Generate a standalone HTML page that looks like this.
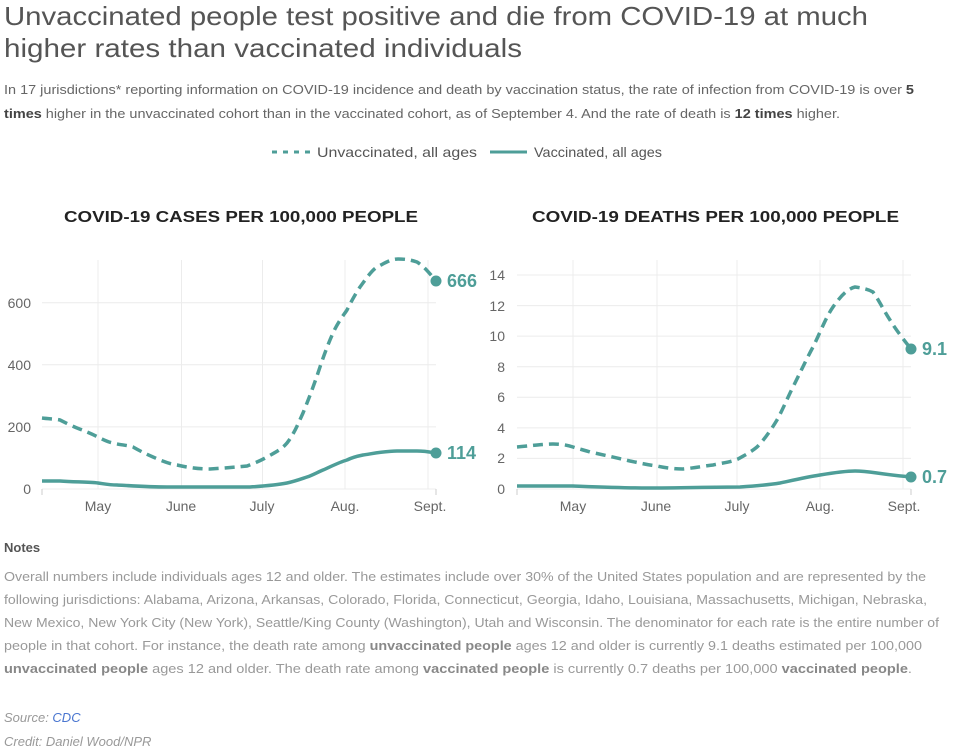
<!DOCTYPE html>
<html><head><meta charset="utf-8"><style>
html,body{margin:0;padding:0;background:#fff;}
svg{display:block;font-family:"Liberation Sans",sans-serif;}
</style></head><body>
<svg width="960" height="755" viewBox="0 0 960 755" xmlns="http://www.w3.org/2000/svg">
<g fill="#555" font-size="26">
<text x="4" y="25" textLength="864" lengthAdjust="spacingAndGlyphs">Unvaccinated people test positive and die from COVID-19 at much</text>
<text x="4" y="57" textLength="518" lengthAdjust="spacingAndGlyphs">higher rates than vaccinated individuals</text>
</g>
<g fill="#666" font-size="13">
<text x="4" y="94" textLength="910" lengthAdjust="spacingAndGlyphs">In 17 jurisdictions* reporting information on COVID-19 incidence and death by vaccination status, the rate of infection from COVID-19 is over <tspan font-weight="bold" fill="#444">5</tspan></text>
<text x="4" y="118" textLength="836" lengthAdjust="spacingAndGlyphs"><tspan font-weight="bold" fill="#444">times</tspan> higher in the unvaccinated cohort than in the vaccinated cohort, as of September 4. And the rate of death is <tspan font-weight="bold" fill="#444">12 times</tspan> higher.</text>
</g>
<line x1="272" y1="152" x2="310" y2="152" stroke="#4e9e98" stroke-width="3" stroke-dasharray="5,6"/>
<text x="317" y="157" font-size="14" fill="#555" textLength="160" lengthAdjust="spacingAndGlyphs">Unvaccinated, all ages</text>
<line x1="490" y1="152" x2="527" y2="152" stroke="#4e9e98" stroke-width="3"/>
<text x="534" y="157" font-size="14" fill="#555" textLength="128" lengthAdjust="spacingAndGlyphs">Vaccinated, all ages</text>

<g font-weight="bold" font-size="16" fill="#222">
<text x="64" y="222" textLength="354" lengthAdjust="spacingAndGlyphs">COVID-19 CASES PER 100,000 PEOPLE</text>
<text x="532" y="222" textLength="367" lengthAdjust="spacingAndGlyphs">COVID-19 DEATHS PER 100,000 PEOPLE</text>
</g>

<!-- left chart -->
<g stroke="#ececec" stroke-width="1">
<line x1="98" y1="260" x2="98" y2="489"/><line x1="181.5" y1="260" x2="181.5" y2="489"/><line x1="262.5" y1="260" x2="262.5" y2="489"/><line x1="345" y1="260" x2="345" y2="489"/><line x1="428" y1="260" x2="428" y2="489"/>
<line x1="42" y1="302.7" x2="436" y2="302.7"/><line x1="42" y1="364.8" x2="436" y2="364.8"/><line x1="42" y1="426.9" x2="436" y2="426.9"/><line x1="42" y1="489" x2="436" y2="489"/>
<line x1="42" y1="489" x2="42" y2="495" stroke="#ccc"/><line x1="436" y1="489" x2="436" y2="495" stroke="#ccc"/>
</g>
<g font-size="14" fill="#666" text-anchor="end">
<text x="31" y="308">600</text><text x="31" y="370">400</text><text x="31" y="432">200</text><text x="31" y="494">0</text>
</g>
<g font-size="14" fill="#666" text-anchor="middle">
<text x="98" y="511">May</text><text x="181" y="511">June</text><text x="262" y="511">July</text><text x="345" y="511">Aug.</text><text x="430" y="511">Sept.</text>
</g>
<path d="M42,418 C50,419 55,419 60,420 C66,423 72,426 77,428 C85,431 92,434 98,437 C104,440 108,442 113,443 C120,445 127,445 133,447 C140,451 146,454 153,457 C162,461 170,464 177,465 C190,468 200,469 210,469 C225,468 238,467 247,466 C255,463 262,460 267,457 C276,452 282,449 287,443 C294,434 298,424 303,413 C310,396 315,382 320,367 C325,352 329,342 333,333 C338,322 343,316 347,310 C352,300 356,293 360,287 C366,279 371,271 377,267 C385,263 391,259 398,259 C406,259 411,260 417,262 C425,267 430,274 436,281" fill="none" stroke="#4e9e98" stroke-width="3.5" stroke-dasharray="10,6"/>
<path d="M42,481 C50,481 55,481 60,481 C75,482 88,482 98,483 C105,484 110,485 117,485 C135,486 150,487 167,487 C180,487 190,487 200,487 C220,487 235,487 250,487 C265,486 277,485 287,483 C296,481 301,479 307,477 C313,475 318,472 323,470 C332,466 340,462 347,460 C353,457 358,456 363,455 C376,453 386,451 397,451 C405,451 411,451 417,451 C425,451 430,452 436,453" fill="none" stroke="#4e9e98" stroke-width="3.5"/>
<circle cx="436" cy="281" r="5.5" fill="#4e9e98"/><circle cx="436" cy="453" r="5.5" fill="#4e9e98"/>
<g font-size="18" font-weight="bold" fill="#4e9e98">
<text x="447" y="287">666</text><text x="447" y="459">114</text>
</g>

<!-- right chart -->
<g stroke="#ececec" stroke-width="1">
<line x1="573" y1="260" x2="573" y2="489"/><line x1="657" y1="260" x2="657" y2="489"/><line x1="737" y1="260" x2="737" y2="489"/><line x1="820" y1="260" x2="820" y2="489"/><line x1="903" y1="260" x2="903" y2="489"/>
<line x1="517" y1="275" x2="911" y2="275"/><line x1="517" y1="305.6" x2="911" y2="305.6"/><line x1="517" y1="336.1" x2="911" y2="336.1"/><line x1="517" y1="366.7" x2="911" y2="366.7"/><line x1="517" y1="397.3" x2="911" y2="397.3"/><line x1="517" y1="427.9" x2="911" y2="427.9"/><line x1="517" y1="458.4" x2="911" y2="458.4"/><line x1="517" y1="489" x2="911" y2="489"/>
<line x1="517" y1="489" x2="517" y2="495" stroke="#ccc"/><line x1="911" y1="489" x2="911" y2="495" stroke="#ccc"/>
</g>
<g font-size="14" fill="#666" text-anchor="end">
<text x="505" y="280">14</text><text x="505" y="311">12</text><text x="505" y="341">10</text><text x="505" y="372">8</text><text x="505" y="402">6</text><text x="505" y="433">4</text><text x="505" y="463">2</text><text x="505" y="494">0</text>
</g>
<g font-size="14" fill="#666" text-anchor="middle">
<text x="573" y="511">May</text><text x="656" y="511">June</text><text x="737" y="511">July</text><text x="820" y="511">Aug.</text><text x="904" y="511">Sept.</text>
</g>
<path d="M517,447 C530,446 542,444 553,444 C561,444 567,445 573,447 C579,449 584,450 590,452 C604,455 617,458 630,461 C640,463 648,465 657,466 C666,468 675,469 683,469 C694,468 704,466 713,465 C722,463 731,462 738,459 C745,455 751,452 757,447 C764,440 771,430 777,420 C783,409 787,399 793,387 C800,373 806,360 813,347 C820,333 826,317 833,307 C840,297 847,289 855,287 C862,288 868,289 873,292 C880,302 884,311 890,320 C896,330 904,340 911,349" fill="none" stroke="#4e9e98" stroke-width="3.5" stroke-dasharray="10,6"/>
<path d="M517,486 C540,486 557,486 573,486 C600,487 625,488 647,488 C680,488 710,487 740,487 C755,486 768,485 780,483 C794,480 807,477 820,475 C832,473 844,471 855,471 C863,471 870,472 877,473 C890,475 900,476 911,477" fill="none" stroke="#4e9e98" stroke-width="3.5"/>
<circle cx="911" cy="349" r="5.5" fill="#4e9e98"/><circle cx="911" cy="477" r="5.5" fill="#4e9e98"/>
<g font-size="18" font-weight="bold" fill="#4e9e98">
<text x="922" y="355">9.1</text><text x="922" y="483">0.7</text>
</g>

<!-- notes -->
<text x="4" y="552" font-size="13" font-weight="bold" fill="#555">Notes</text>
<g font-size="13" fill="#999">
<text x="4" y="581" textLength="922" lengthAdjust="spacingAndGlyphs">Overall numbers include individuals ages 12 and older. The estimates include over 30% of the United States population and are represented by the</text>
<text x="4" y="604" textLength="923" lengthAdjust="spacingAndGlyphs">following jurisdictions: Alabama, Arizona, Arkansas, Colorado, Florida, Connecticut, Georgia, Idaho, Louisiana, Massachusetts, Michigan, Nebraska,</text>
<text x="4" y="627" textLength="935" lengthAdjust="spacingAndGlyphs">New Mexico, New York City (New York), Seattle/King County (Washington), Utah and Wisconsin. The denominator for each rate is the entire number of</text>
<text x="4" y="650" textLength="918" lengthAdjust="spacingAndGlyphs">people in that cohort. For instance, the death rate among <tspan font-weight="bold" fill="#888">unvaccinated people</tspan> ages 12 and older is currently 9.1 deaths estimated per 100,000</text>
<text x="4" y="673" textLength="908" lengthAdjust="spacingAndGlyphs"><tspan font-weight="bold" fill="#888">unvaccinated people</tspan> ages 12 and older. The death rate among <tspan font-weight="bold" fill="#888">vaccinated people</tspan> is currently 0.7 deaths per 100,000 <tspan font-weight="bold" fill="#888">vaccinated people</tspan>.</text>
</g>
<g font-size="13" font-style="italic" fill="#999">
<text x="4" y="722">Source: <tspan fill="#4a76d0">CDC</tspan></text>
<text x="4" y="746">Credit: Daniel Wood/NPR</text>
</g>
</svg>
</body></html>
